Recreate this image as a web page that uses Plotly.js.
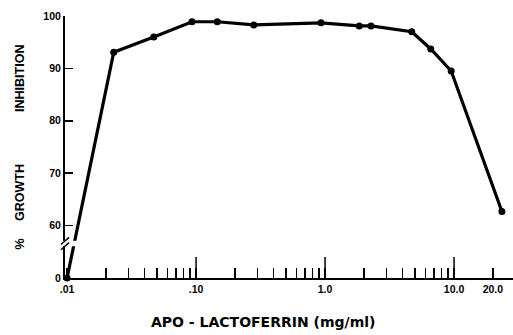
<!DOCTYPE html>
<html>
<head>
<meta charset="utf-8">
<script src="https://cdn.plot.ly/plotly-3.0.1.min.js"></script>
<style>html,body{margin:0;padding:0;background:#fff;}#chart{width:513px;height:335px;}</style>
</head>
<body>
<div id="chart"></div>
<script>
// Data
const concentration = [0.01, 0.023, 0.047, 0.093, 0.146, 0.28, 0.93, 1.84, 2.27, 4.7, 6.6, 9.5, 23.5]; // mg/ml
const inhibition    = [0, 93.1, 96.0, 98.9, 98.9, 98.3, 98.7, 98.1, 98.1, 97.0, 93.7, 89.5, 62.7];   // %

// Axis ticks and titles
const xMajorVals   = [0.01, 0.1, 1, 10, 20];
const xMajorText   = [".01", ".10", "1.0", "10.0", "20.0"];
const xTallVals    = [0.1, 1, 10];
const xMinorVals   = [0.02,0.03,0.04,0.05,0.06,0.07,0.08,0.09,0.2,0.3,0.4,0.5,0.6,0.7,0.8,0.9,2,3,4,5,6,7,8,9];
const yTickValues  = [0, 60, 70, 80, 90, 100];
const yTickText    = ["0", "60", "70", "80", "90", "100"];
const xTitle = "APO - LACTOFERRIN (mg/ml)";

// Broken y scale: values below the break are drawn just under 60
const BREAK_LOW = 50;
function brk(v) { return v < 55 ? BREAK_LOW + v : v; }

const FONT = "Liberation Sans, Arial, sans-serif";
const TFONT = "DejaVu Sans, Liberation Sans, sans-serif";
const NB = "\u00a0";
const rep = n => NB.repeat(n);

const trace = {
  x: concentration,
  y: inhibition.map(brk),
  customdata: inhibition,
  mode: "lines+markers",
  line: {color: "#000", width: 3.2},
  marker: {color: "#000", size: 7},
  cliponaxis: false,
  hovertemplate: "%{x} mg/ml: %{customdata}%<extra></extra>"
};

const xr = [-2.016, 1.457];

// taller ticks at the decades
const tallTicks = xTallVals.map(v => ({
  type: "line", xref: "x", yref: "paper", ysizemode: "pixel", yanchor: 0,
  x0: v, x1: v, y0: 0, y1: 21,
  line: {color: "#000", width: 1.5}, layer: "above"
}));

const layout = {
  width: 513, height: 335,
  margin: {l: 65, r: 0, t: 16, b: 57},
  paper_bgcolor: "#fff", plot_bgcolor: "#fff",
  showlegend: false,
  font: {family: FONT, color: "#000"},
  xaxis: {
    type: "log", range: xr,
    showline: true, linecolor: "#000", linewidth: 2,
    showgrid: false, zeroline: false,
    tickmode: "array", tickvals: xMajorVals, ticktext: xMajorText,
    ticks: "inside", ticklen: 10, tickwidth: 1.5, tickcolor: "#000",
    tickfont: {family: FONT, size: 10.5, weight: "bold"},
    minor: {tickmode: "array", tickvals: xMinorVals, ticks: "inside", ticklen: 10, tickwidth: 1.5, tickcolor: "#000", showgrid: false}
  },
  yaxis: {
    range: [50, 100],
    showline: true, linecolor: "#000", linewidth: 2,
    showgrid: false, zeroline: false,
    tickmode: "array", tickvals: yTickValues.map(brk), ticktext: yTickText,
    ticks: "inside", ticklen: 8, tickwidth: 1.5, tickcolor: "#000",
    tickfont: {family: FONT, size: 10.5, weight: "bold"},
    title: {text: "%" + rep(5) + "GROWTH" + rep(15) + "INHIBITION", font: {family: FONT, size: 12.5, weight: "bold"}, standoff: 16}
  },
  annotations: [
    {text: xTitle, xref: "paper", yref: "paper", x: 0.442, y: -0.168, xanchor: "center", yanchor: "middle",
     showarrow: false, font: {family: TFONT, size: 14, weight: "bold", color: "#000"}}
  ],
  shapes: [
    // scale break: white gap across axis and line, then two slashes
    {type: "rect", xref: "paper", yref: "paper", x0: -0.012, x1: 0.035, y0: 0.121, y1: 0.142, fillcolor: "#fff", line: {width: 0}, layer: "above"},
    {type: "line", xref: "paper", yref: "paper", x0: -0.009, x1: 0.009, y0: 0.128, y1: 0.155, line: {color: "#000", width: 1.5}, layer: "above"},
    {type: "line", xref: "paper", yref: "paper", x0: -0.009, x1: 0.009, y0: 0.108, y1: 0.135, line: {color: "#000", width: 1.5}, layer: "above"}
  ].concat(tallTicks)
};

Plotly.newPlot("chart", [trace], layout, {displayModeBar: false, staticPlot: true});
</script>
</body>
</html>
